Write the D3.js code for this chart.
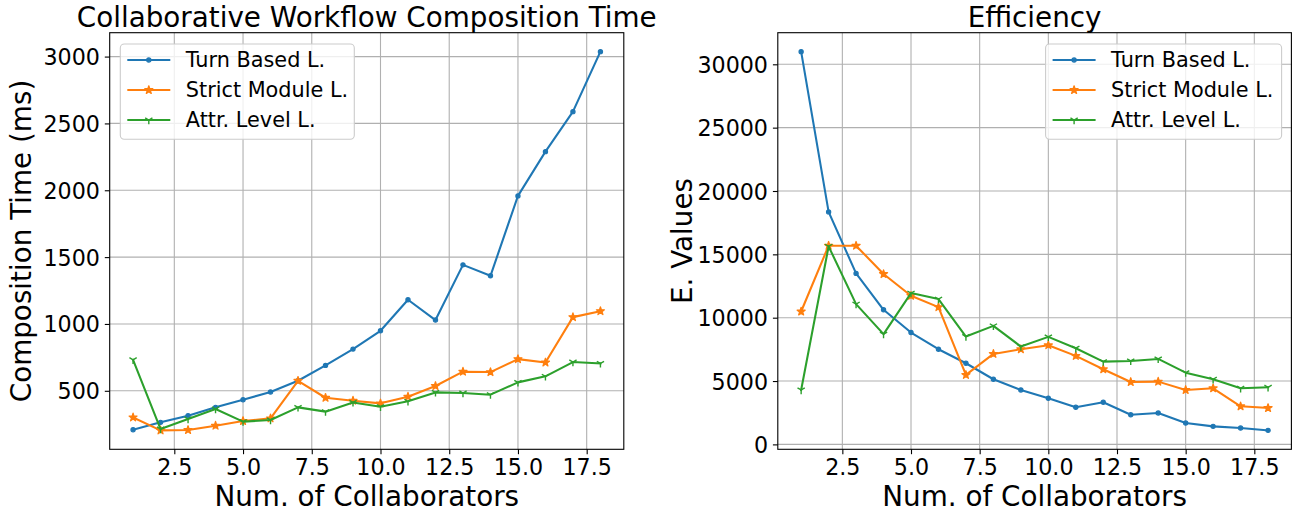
<!DOCTYPE html>
<html><head><meta charset="utf-8">
<script src="https://cdn.jsdelivr.net/npm/d3@7"></script>
<style>body{margin:0;background:#fff}svg{display:block}</style>
</head><body>
<svg id="c" width="1297" height="518"></svg>
<script>
// ---- data ----
const collaborators = [1,2,3,4,5,6,7,8,9,10,11,12,13,14,15,16,17,18];
const seriesNames = ["Turn Based L.", "Strict Module L.", "Attr. Level L."];

const turnTime   = [209,264,314,376,433,491,575,690,812,949,1181,1029,1442,1360,1958,2289,2588,3037];
const strictTime = [301,204,207,239,274,294,575,448,426,406,456,536,643,640,737,712,1051,1096];
const attrTime   = [732,214,289,364,269,282,376,344,413,381,421,488,483,471,563,608,715,705];

const turnEff   = [31000,18350,13495,10622,8827,7513,6406,5140,4295,3638,2926,3322,2341,2476,1685,1424,1289,1107];
const strictEff = [10487,15683,15683,13445,11729,10835,5481,7142,7513,7830,6984,5931,4927,4954,4295,4429,3005,2871];
const attrEff   = [4295,15630,11073,8700,11942,11468,8510,9356,7719,8486,7592,6533,6588,6746,5663,5140,4429,4508];

const xTicks    = [2.5,5,7.5,10,12.5,15,17.5];
const timeTicks = [500,1000,1500,2000,2500,3000];
const effTicks  = [0,5000,10000,15000,20000,25000,30000];

const titles  = ["Collaborative Workflow Composition Time", "Efficiency"];
const yLabels = ["Composition Time (ms)", "E. Values"];
const xLabel  = "Num. of Collaborators";

// ---- styling ----
const colors  = ["#1f77b4", "#ff7f0e", "#2ca02c"];
const markers = ["point", "star", "tri"];
const FONT = "DejaVu Sans, Verdana, sans-serif";
const TOP = 32.7, BOTTOM = 449.3;

const panels = [
  {x0: 109.7, x1: 623.8, series: [turnTime, strictTime, attrTime], yTicks: timeTicks,
   title: titles[0], ylabel: yLabels[0], ylabelX: 31, legend: {x: 120.3, y: 44, w: 234, h: 95.3}},
  {x0: 777.8, x1: 1291.4, series: [turnEff, strictEff, attrEff], yTicks: effTicks,
   title: titles[1], ylabel: yLabels[1], ylabelX: 692, legend: {x: 1045.6, y: 44, w: 236, h: 95.3}}
];

const svg = d3.select("#c");

function starPath(R) {
  const pts = [];
  for (let i = 0; i < 10; i++) {
    const a = -Math.PI / 2 + i * Math.PI / 5;
    const r = i % 2 === 0 ? R : R * 0.381966;
    pts.push([r * Math.cos(a), r * Math.sin(a)]);
  }
  return "M" + pts.map(p => p.join(",")).join("L") + "Z";
}
function drawMarker(g, type, color, cx, cy) {
  if (type === "point") {
    g.append("circle").attr("cx", cx).attr("cy", cy).attr("r", 2.1)
      .attr("fill", color).attr("stroke", color).attr("stroke-width", 1.2);
  } else if (type === "star") {
    g.append("path").attr("d", starPath(4.2)).attr("transform", `translate(${cx},${cy})`)
      .attr("fill", color).attr("stroke", color).attr("stroke-width", 1.3).attr("stroke-linejoin", "round");
  } else {
    const r = 4.2;
    g.append("path")
      .attr("d", `M0,0L0,${r}M0,0L${-0.866*r},${-0.5*r}M0,0L${0.866*r},${-0.5*r}`)
      .attr("transform", `translate(${cx},${cy})`)
      .attr("fill", "none").attr("stroke", color).attr("stroke-width", 1.4);
  }
}
function marginDomain(vals) {
  const lo = d3.min(vals), hi = d3.max(vals), m = (hi - lo) * 0.05;
  return [lo - m, hi + m];
}

panels.forEach(p => {
  const x = d3.scaleLinear().domain(marginDomain(collaborators)).range([p.x0, p.x1]);
  const y = d3.scaleLinear().domain(marginDomain(p.series.flat())).range([BOTTOM, TOP]);
  const g = svg.append("g");

  // grid
  g.append("g").selectAll("line").data(xTicks).join("line")
    .attr("x1", d => x(d)).attr("x2", d => x(d)).attr("y1", TOP).attr("y2", BOTTOM)
    .attr("stroke", "#b0b0b0").attr("stroke-width", 1.1);
  g.append("g").selectAll("line").data(p.yTicks).join("line")
    .attr("x1", p.x0).attr("x2", p.x1).attr("y1", d => y(d)).attr("y2", d => y(d))
    .attr("stroke", "#b0b0b0").attr("stroke-width", 1.1);

  // lines and markers
  p.series.forEach((vals, si) => {
    const line = d3.line().x((d, i) => x(collaborators[i])).y(d => y(d));
    g.append("path").datum(vals).attr("d", line)
      .attr("fill", "none").attr("stroke", colors[si]).attr("stroke-width", 2.08)
      .attr("stroke-linejoin", "round").attr("stroke-linecap", "square");
    const mg = g.append("g");
    vals.forEach((v, i) => drawMarker(mg, markers[si], colors[si], x(collaborators[i]), y(v)));
  });

  // spines
  g.append("rect").attr("x", p.x0).attr("y", TOP).attr("width", p.x1 - p.x0).attr("height", BOTTOM - TOP)
    .attr("fill", "none").attr("stroke", "#000").attr("stroke-width", 1.1);

  // axes
  const xa = g.append("g").attr("transform", `translate(0,${BOTTOM})`)
    .call(d3.axisBottom(x).tickValues(xTicks).tickFormat(d3.format(".1f")).tickSize(4.9).tickPadding(4.9).tickSizeOuter(0));
  const ya = g.append("g").attr("transform", `translate(${p.x0},0)`)
    .call(d3.axisLeft(y).tickValues(p.yTicks).tickFormat(d3.format("d")).tickSize(4.9).tickPadding(4.9).tickSizeOuter(0));
  [xa, ya].forEach(a => {
    a.select(".domain").remove();
    a.selectAll(".tick line").attr("stroke", "#000").attr("stroke-width", 1.1);
    a.selectAll(".tick text").attr("font-family", FONT).attr("font-size", 22.2).attr("fill", "#000");
  });
  xa.selectAll(".tick text").attr("dy", null).attr("y", 26.2);
  ya.selectAll(".tick text").attr("dy", "0.36em");

  // titles
  const cx = (p.x0 + p.x1) / 2;
  g.append("text").attr("x", cx).attr("y", 26.6).attr("text-anchor", "middle")
    .attr("font-family", FONT).attr("font-size", 27.8).text(p.title);
  g.append("text").attr("x", cx).attr("y", 506).attr("text-anchor", "middle")
    .attr("font-family", FONT).attr("font-size", 27.8).text(xLabel);
  g.append("text").attr("transform", `translate(${p.ylabelX},${(TOP + BOTTOM) / 2}) rotate(-90)`)
    .attr("text-anchor", "middle").attr("font-family", FONT).attr("font-size", 27.8).text(p.ylabel);

  // legend
  const L = p.legend;
  const lg = g.append("g");
  lg.append("rect").attr("x", L.x).attr("y", L.y).attr("width", L.w).attr("height", L.h)
    .attr("rx", 4).attr("fill", "#fff").attr("fill-opacity", 0.8)
    .attr("stroke", "#cccccc").attr("stroke-width", 1.1);
  seriesNames.forEach((name, si) => {
    const ry = 60 + si * 30;
    const lx0 = L.x + 7, lx1 = L.x + 50;
    lg.append("line").attr("x1", lx0).attr("x2", lx1).attr("y1", ry).attr("y2", ry)
      .attr("stroke", colors[si]).attr("stroke-width", 2.08);
    drawMarker(lg, markers[si], colors[si], (lx0 + lx1) / 2, ry);
    lg.append("text").attr("x", L.x + 65.5).attr("y", ry + 7.4)
      .attr("font-family", FONT).attr("font-size", 20.8).attr("fill", "#000").text(name);
  });
});
</script>
</body></html>
